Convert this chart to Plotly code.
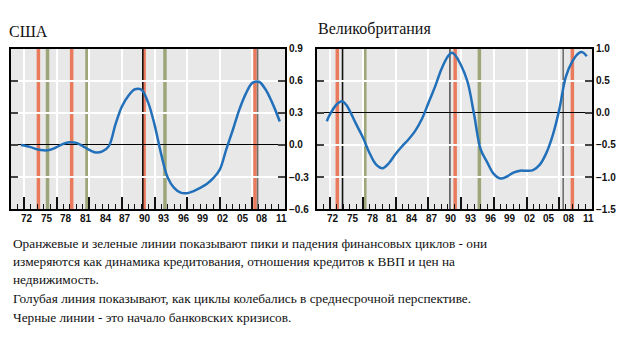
import plotly.graph_objects as go

# ---- Medium-term financial cycle, United States ----
us_years = [1971.5, 1972, 1973, 1974, 1975, 1976, 1977, 1978, 1979, 1980, 1981, 1982,
            1983, 1984, 1985, 1986, 1987, 1988, 1989, 1990, 1991, 1992, 1993, 1994,
            1995, 1996, 1997, 1998, 1999, 2000, 2001, 2002, 2003, 2004, 2005, 2006,
            2007, 2008, 2009, 2010, 2011.2]
us_cycle = [0.00, -0.005, -0.02, -0.04, -0.05, -0.045, -0.02, 0.01, 0.025, 0.02, -0.01,
            -0.045, -0.07, -0.06, -0.01, 0.19, 0.36, 0.46, 0.52, 0.515, 0.40, 0.19, -0.08,
            -0.30, -0.40, -0.445, -0.45, -0.43, -0.40, -0.365, -0.31, -0.23, -0.04, 0.14,
            0.33, 0.48, 0.58, 0.59, 0.52, 0.40, 0.22]

# ---- Medium-term financial cycle, United Kingdom ----
uk_years = [1971.5, 1972, 1973, 1973.8, 1974.5, 1975, 1976, 1977, 1978, 1979, 1980, 1981,
            1982, 1983, 1984, 1985, 1986, 1987, 1988, 1989, 1990, 1990.6, 1991, 1992,
            1993, 1994, 1995, 1996, 1997, 1998, 1999, 2000, 2001, 2002, 2003, 2004, 2005,
            2006, 2007, 2008, 2009, 2010, 2010.5, 2011.2]
uk_cycle = [-0.13, -0.02, 0.13, 0.18, 0.12, 0.03, -0.18, -0.38, -0.62, -0.80, -0.86, -0.78,
            -0.64, -0.52, -0.41, -0.28, -0.10, 0.15, 0.40, 0.68, 0.88, 0.935, 0.91, 0.74,
            0.48, -0.03, -0.57, -0.77, -0.95, -1.02, -0.99, -0.93, -0.90, -0.90, -0.89,
            -0.81, -0.63, -0.35, 0.05, 0.56, 0.80, 0.93, 0.945, 0.88]

# Peaks (orange) and troughs (green) of the financial cycle, starts of banking crises
us_peaks = [1974.2, 1979.3, 1990.4, 2007.4]
us_troughs = [1975.6, 1981.65, 1993.6]
us_crises = [1990.2, 2007.8]
us_crisis_colors = ["#111111", "#707070"]

uk_peaks = [1973.1, 1991.1, 2009.0]
uk_troughs = [1977.3, 1994.8]
uk_crises = [1973.9, 1990.3, 2007.6]
uk_crisis_colors = ["#111111", "#555555", "#707070"]

# Axis ticks and labels
year_range = [1970, 2012]
label_years = [1972, 1975, 1978, 1981, 1984, 1987, 1990, 1993, 1996, 1999, 2002, 2005, 2008, 2011]
label_text = ["72", "75", "78", "81", "84", "87", "90", "93", "96", "99", "02", "05", "08", "11"]
major_tick_years = [1972, 1977, 1982, 1987, 1992, 1997, 2002, 2007, 2012]
us_yticks = [-0.6, -0.3, 0.0, 0.3, 0.6, 0.9]
uk_yticks = [-1.5, -1.0, -0.5, 0.0, 0.5, 1.0]

titles = ["США", "Великобритания"]
caption = [
    "Оранжевые и зеленые линии показывают пики и падения финансовых циклов - они",
    "измеряются как динамика кредитования, отношения кредитов к ВВП и цен на",
    "недвижимость.",
    "Голубая линия показывают, как циклы колебались в среднесрочной перспективе.",
    "Черные линии - это начало банковских кризисов.",
]

W, H = 631, 346
ORANGE = "#E97A5C"
GREEN = "#9DA679"
BLUE = "#2270BA"
BG = "#E8E8E8"
SERIF = "Liberation Serif"
tick_font = dict(family="Liberation Sans", size=10, color="#111111", weight="bold")

fig = go.Figure()

fig.add_trace(go.Scatter(x=us_years, y=us_cycle, mode="lines", xaxis="x", yaxis="y",
                         line=dict(color=BLUE, width=2.5, shape="spline", smoothing=1.0),
                         showlegend=False, hoverinfo="skip"))
fig.add_trace(go.Scatter(x=uk_years, y=uk_cycle, mode="lines", xaxis="x2", yaxis="y2",
                         line=dict(color=BLUE, width=2.5, shape="spline", smoothing=1.0),
                         showlegend=False, hoverinfo="skip"))


def vline(xref, yref, x, color, width):
    fig.add_shape(type="line", xref=xref, yref=yref + " domain", x0=x, x1=x, y0=0, y1=1,
                  line=dict(color=color, width=width), layer="below")


for xr, yr, peaks, troughs, crises, ccols in [
        ("x", "y", us_peaks, us_troughs, us_crises, us_crisis_colors),
        ("x2", "y2", uk_peaks, uk_troughs, uk_crises, uk_crisis_colors)]:
    for v in peaks:
        vline(xr, yr, v, ORANGE, 3.5)
    for v in troughs:
        vline(xr, yr, v, GREEN, 3.5)
    for v, c in zip(crises, ccols):
        vline(xr, yr, v, c, 1.6)

left_dom = [11 / W, 285 / W]
right_dom = [317 / W, 592 / W]
y_dom = [1 - 211 / H, 1 - 45 / H]


def year_axis(domain, anchor):
    return dict(domain=domain, anchor=anchor, range=year_range,
                tickmode="array", tickvals=major_tick_years, ticks="inside", ticklen=12,
                tickwidth=1.5, tickcolor="#111111", showticklabels=False,
                showgrid=True, gridcolor="white", gridwidth=2, zeroline=False,
                showline=True, mirror=True, linewidth=2, linecolor="black",
                minor=dict(tickmode="linear", tick0=1970, dtick=1, ticks="inside",
                           ticklen=5, tickwidth=1, tickcolor="#111111", showgrid=False),
                fixedrange=True)


def value_axis(anchor, ticks, rng):
    return dict(domain=y_dom, anchor=anchor, side="right", range=rng, tickvals=ticks,
                tickformat=".1f", ticks="inside", ticklen=7, tickwidth=1.5,
                tickcolor="#444444", showline=True, mirror="ticks", linewidth=2,
                linecolor="black", showgrid=True, gridcolor="white", gridwidth=2,
                zeroline=True, zerolinecolor="black", zerolinewidth=1,
                tickfont=tick_font, fixedrange=True)


annotations = [
    dict(text=titles[0], x=7 / W, y=1 - 27 / H, xref="paper", yref="paper",
         xanchor="left", yanchor="middle", showarrow=False,
         font=dict(family=SERIF, size=16, color="#111111")),
    dict(text=titles[1], x=316 / W, y=1 - 25 / H, xref="paper", yref="paper",
         xanchor="left", yanchor="middle", showarrow=False,
         font=dict(family=SERIF, size=16, color="#111111")),
]

# year labels sit in the middle of each labelled year
for xr in ["x", "x2"]:
    for yr_, txt in zip(label_years, label_text):
        annotations.append(dict(text=txt, x=yr_ + 0.5, y=1 - 220 / H, xref=xr,
                                yref="paper", xanchor="center", yanchor="middle",
                                showarrow=False, font=tick_font))

line_centers = [246, 265, 284, 303.5, 322.5]
for txt, cy in zip(caption, line_centers):
    annotations.append(dict(text=txt, x=11 / W, y=1 - cy / H, xref="paper", yref="paper",
                            xanchor="left", yanchor="middle", showarrow=False,
                            font=dict(family=SERIF, size=13.3, color="#111111")))

fig.update_layout(
    width=W, height=H, margin=dict(l=0, r=0, t=0, b=0),
    paper_bgcolor="white", plot_bgcolor=BG, showlegend=False,
    xaxis=year_axis(left_dom, "y"),
    xaxis2=year_axis(right_dom, "y2"),
    yaxis=value_axis("x", us_yticks, [-0.6, 0.9]),
    yaxis2=value_axis("x2", uk_yticks, [-1.5, 1.0]),
    annotations=annotations,
)

fig.write_html("out.html")
